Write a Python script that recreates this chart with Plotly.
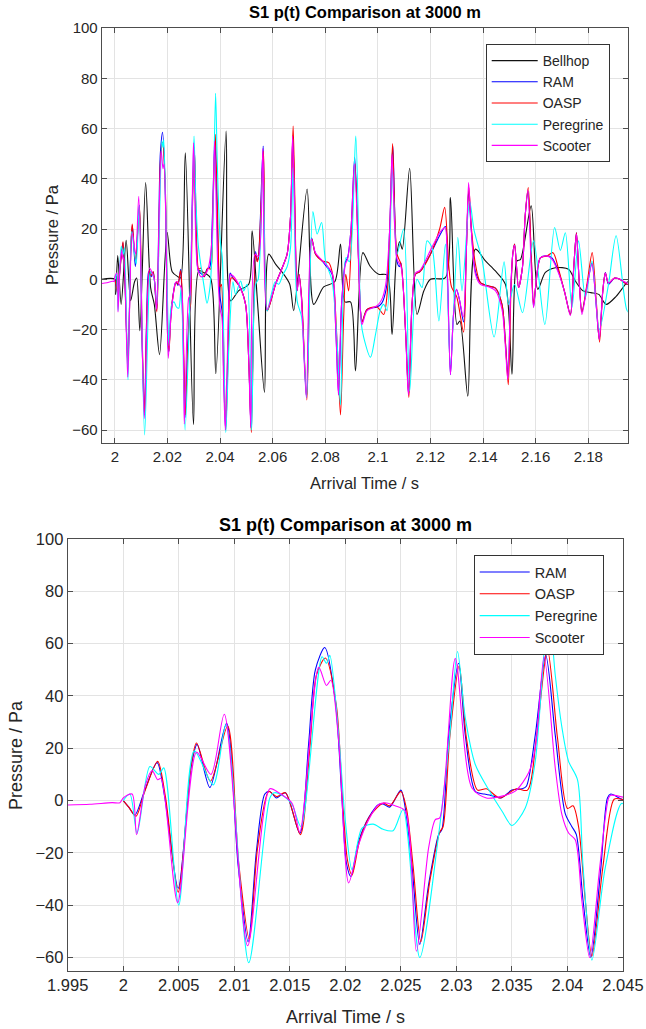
import plotly.graph_objects as go

# ---------------- data (time offsets in ms relative to 2.000 s, pressure in Pa) ----------------
bellhop_t_ms = [-5, 0, 0.3, 1.1, 2.4, 4.3, 6.0, 7.5, 8.3, 9.5, 11.7, 13.6, 15.0, 17.0, 19.9, 21.8, 24.0,
                25.0, 26.8, 29.9, 31.9, 33.8, 36.4, 38.4, 42.3, 44.0, 47.0, 50.9, 52.2, 54.3, 56.9, 58.5,
                61.1, 64.2, 66.5, 68.0, 73.1, 75.6, 79.4, 83.6, 85.8, 87.5, 89.6, 91.5, 94.3, 97.0, 100.3,
                103.5, 105.4, 107.0, 108.3, 109.3, 112.1, 114.9, 117.5, 120.0, 125.7, 127.6, 130.1, 131.2,
                134.2, 137.1, 140.9, 144.7, 148.5, 151.0, 152.9, 154.2, 158.3, 160.8, 163.7, 167.5, 172.5,
                175.1, 178.0, 181.0, 184.0, 186.8, 190.6, 194.5, 196.0]
bellhop_p = [0, 0, -6, 9.4, -10, 15.5, -8.5, -1, 0.5, -20.5, 38.5, -3.3, -10, -30, 18.6, 3, 1,
             0.5, 50.3, -57.8, 3.3, 2.7, 0.5, -37.6, 59, -8.6, -4.6, -2, 19.3, -10, -45, 10,
             6, 2, -2, -12.5, 35.9, -10, -3, -1, 14, -9, -9, -36.5, 10.6, 5.3, 2,
             1.7, -22, 8, 15, 12, 44.2, -14, -4.6, 0, 0.7, 32.5, -18, -16.6,
             -46.5, 12, 7.3, 3.3, -2, -37.8, 7.3, 7.8, 29.2, -4, 2.7, 4.6, 4,
             -0.7, -4.6, -5.3, -6, -10, -6.8, -1.5, 0]

ram_t_ms = [0, 0.5, 1.05, 1.9, 3.05, 3.75, 4.95, 6.1, 6.65, 7.8, 9.3, 10.35, 11.25, 12.0, 12.75, 13.2,
            13.8, 14.6, 15.9, 16.7, 17.3, 18.15, 19.1, 19.7, 20.1, 20.5, 21.2, 22.1, 23.0, 23.4, 24.0,
            25.0, 25.4, 26.0, 26.7, 27.5, 28.4, 28.7, 29.3, 30.2, 30.8, 31.7, 32.5, 33.1, 34.0, 35.0,
            35.9, 36.3, 37.1, 38.05, 38.9, 39.8, 40.4, 40.8, 41.4, 42.1, 43.0, 43.6, 43.9, 44.9,
            47.5, 49.7, 50.9, 51.8, 53.5, 54.1, 54.6, 56.4, 57.9, 61.1, 63.6, 65.5, 66.8, 67.7, 69.3,
            70.0, 70.96, 72.9, 74.8, 76.3, 78.8, 80.5, 82.6, 84.0, 85.1, 86.2, 87.7, 88.5, 89.8, 91.2,
            93.4, 94.0, 95.9, 99.7, 101.5, 103.3, 104.5, 105.7, 107.3, 108.2, 108.8, 110.5, 111.7,
            113.0, 114.3, 116.0, 120.0, 123.8, 125.7, 126.5, 127.6, 128.7, 129.9, 131.0, 132.6, 133.6,
            134.5, 135.5, 137.1, 139.0, 142.1, 144.7, 147.2, 148.5, 149.5, 150.5, 151.3, 152.0, 153.5,
            155.0, 156.0, 157.1, 158.3, 159.2, 160.0, 161.8, 164.3, 166.2, 168.7, 171.0, 173.2, 174.5,
            175.5, 176.5, 177.6, 179.5, 181.4, 183.0, 184.2, 185.5, 186.5, 187.7, 190.0, 192.0, 194.7,
            196.0]
ram_p = [0, -2.5, -5.5, 3.5, 14.5, 1, -33.5, 12.5, 21.5, 5, 29.5, -25, -54, -19, 2.5, 3.5,
         1, 3, -12.5, 22, 50, 58.5, 38, 0, -24, -29, -15.5, -6.5, -1.5, -1.3, -2.5,
         4, -3, -25, -55, -32, -13, -11, 25, 52.5, 25, 3.5, 2.5, 2, 1, 4,
         4.5, 5.5, 25, 55.5, 25, -5, -10, -13, -38, -60, -26, 1, 2.5, 0.5,
         -3, -10, -32, -59, 11, 7.5, 9, 53, -12.5, -2, 4.5, 10, 25, 57, -4.5,
         2, -7, -47, 16.5, 10, 7.3, 5, 2, -20, -46, -10, 7, 8.5, 20, 48.5,
         -12.5, -17, -12, -11, -9.5, -3, 20, 53, 7, 5, 6.5, -20, -46,
         -10, 2, 3, 10, 18, 21, 0, -38, -15, -4, -8, -17, 10,
         35, 20, 3, -1.3, -2.7, -3.5, -10, -25, -39, -5, 10, 14, -3.3,
         5, 25, 35, 10, -11, -3, 8.5, 9.3, 8.5, 3, -5, -14, 5,
         18.5, 0, -13, -3, 6.5, -10, -24, -5, 2.7, -2, 0.5, 0, -2,
         -2]

oasp_t_ms = [0, 0.5, 1.15, 1.9, 3.1, 3.8, 4.95, 6.1, 6.6, 7.85, 9.4, 10.4, 11.35, 12.1, 13.1, 13.8,
             14.6, 15.95, 16.8, 17.4, 18.2, 19.2, 19.75, 20.2, 20.6, 21.3, 22.2, 23.4, 24.0, 25.0,
             25.5, 26.1, 26.8, 27.6, 28.5, 28.8, 29.4, 30.25, 30.9, 31.9, 32.7, 33.9, 35.4, 36.4,
             37.2, 38.2, 39.1, 40.0, 40.5, 41.0, 41.6, 42.2, 43.2, 44.2, 44.9,
             47.5, 49.7, 50.9, 51.9, 53.5, 54.1, 54.6, 56.5, 58.0, 61.1, 63.6, 65.5, 66.8, 67.8, 69.3,
             70.0, 71.0, 73.0, 74.9, 76.3, 78.8, 81.3, 82.8, 84.5, 85.8, 87.0, 87.8, 88.9, 90.0, 91.3,
             93.4, 94.0, 95.9, 99.7, 102.2, 103.6, 104.6, 105.6, 107.3, 108.8, 110.5, 111.8,
             113.0, 114.3, 116.0, 120.0, 123.5, 125.4, 127.0, 128.0, 130.0, 132.6, 133.6,
             134.6, 135.6, 137.1, 139.0, 142.1, 144.7, 147.2, 148.5, 149.6, 150.6, 151.3, 152.0, 153.5,
             155.0, 156.0, 157.2, 158.3, 159.2, 160.0, 161.8, 164.3, 166.6, 168.7, 171.0, 173.2, 174.5,
             175.5, 176.5, 177.6, 179.5, 181.5, 183.0, 184.3, 185.5, 186.5, 187.7, 190.0, 192.0, 194.7,
             196.0]
oasp_p = [0, -2.5, -6, 3, 15, 1.5, -35, 13, 22, 7.4, 28.5, -24, -53, -18, 3.5, 1.5,
          3, -13, 20, 48, 54.5, 36, 0, -23, -28.5, -15, -6, -1, -2, 3.5,
          -3, -25, -54, -31, -12, -10, 24, 51.5, 24, 4, 4.5, 1, 4.5, 4,
          24, 57.7, 24, -3, -2, -10, -38, -59.5, -25, 0.5, 0.5,
          -3, -10, -32, -61, 10, 7, 8.5, 51, -12.5, -2, 4.5, 10, 25, 61, -4.5,
          2, -7, -48, 16, 10, 7.3, 6.6, 2, -25, -54, -15, 2, -4.6, 18, 46,
          -12.5, -17, -12, -11, -14, -5, 20, 54, 10, 6, -20, -47,
          -10, 2, 3, 10, 20, 28.6, 5, -3, -7, -21, 10,
          36.5, 20, 6, -1.3, -2.7, -3.5, -10, -25, -42, -5, 10, 14, -3.3,
          5, 25, 36.5, 10, -10, -3, 8.5, 9.3, 10.6, 4, -5, -14, 5,
          18.5, 0, -13, -2, 10.6, -8, -25, -5, 2.5, -1.5, 0.5, 0, -2,
          -2]

peregrine_t_ms = [0, 0.6, 1.25, 2.4, 3.2, 3.65, 5.0, 6.4, 8.1, 9.25, 11.3, 13.2, 13.6, 14.5, 15.2, 16.0,
                  17.9, 18.3, 18.6, 19.4, 19.97, 20.6, 21.5, 22.5, 23.4, 24.3, 25.2, 26.7, 28.4, 29.4,
                  30.1, 30.8, 31.7, 32.9, 34.1, 35.0, 36.2, 37.1, 38.3, 38.9, 39.5, 40.1, 40.9, 41.4,
                  42.2, 43.4, 44.9, 45.9, 47.8, 49.0, 50.3, 52.0, 53.5, 54.5, 56.3, 57.9, 59.5, 61.0,
                  62.3, 64.0, 65.5, 66.8, 67.8, 69.3, 71.0, 72.9, 75.3, 76.9, 78.6, 80.1, 82.6, 84.5,
                  85.8, 87.9, 89.2, 91.6, 93.6, 94.6, 97.2, 99.1, 101.0, 102.2, 103.5, 105.4, 107.3,
                  109.8, 112.1, 114.9, 116.8, 118.7, 120.6, 123.2, 125.7, 127.6, 130.4, 132.0, 134.9,
                  136.5, 137.7, 139.6, 144.2, 148.0, 149.7, 152.0, 155.0, 159.2, 163.5, 167.2, 169.4,
                  171.3, 173.8, 176.3, 178.9, 181.4, 184.2, 187.7, 190.6, 194.6, 196.0]
peregrine_p = [0, 2.5, -12.5, 13, 10, 12.5, -40, 19, 6, 29, -62, 1, 3, 1.5, -1.5, -10,
               55, 52.5, 55.5, 25, -6.6, -26.4, -10.5, -9, -11, -11.5, -3.4, -60, -13, 25,
               57, 31.6, 13.8, 4.2, -4, -9.5, -2.8, 15, 74, 48, 28, 15, 8, -25,
               -61, -25.7, -1, -6, -0.7, -4.6, -2, -60, -2, 0, 45.8, -12.6, -6, -1,
               -2, 2, 5, 12.6, 44.5, -8.6, -15, -47, 27, 18, 22.6, 7.3, -0.7, -25,
               -50, 8.6, 7, 57, -16.6, -23, -31, -22, -12, -10, -12.5, 44.5, 10,
               20, -44.5, 0, -3.3, 15.3, 12.6, -16.6, 14, -34, 16.6, -4.6, 31,
               20, 15, 8, -23, 7, -10, -2, -13.3, 15.3, -18, 20.6, 11.5,
               18.5, -11.3, 15.3, -7.3, 7.3, -20, -2, 17.3, -12, -14]

scooter_t_ms = [-5.0, -3.0, -1.0, -0.3, 0.0, 0.8, 1.2, 2.0, 2.6, 3.1, 3.4, 4.9, 6.6, 7.9, 9.1, 11.2,
                13.2, 14.0, 15.2, 15.9, 17.6, 18.3, 18.7, 19.4, 20.3, 21.2, 22.1, 23.0, 23.7, 24.6,
                25.4, 26.4, 27.5, 28.1, 28.5, 29.9, 31.4, 32.7, 34.1, 35.3, 36.5, 37.1, 37.9, 38.9,
                39.5, 40.1, 40.7, 41.3, 42.0, 42.9, 43.7, 43.9, 45.0,
                47.5, 49.7, 50.9, 51.7, 53.3, 54.6, 56.3, 57.8, 61.1, 63.6, 65.5, 66.8, 67.6, 69.3,
                70.0, 70.9, 72.8, 74.7, 76.3, 78.8, 82.6, 84.0, 85.0, 86.2, 87.7, 88.5, 89.8, 91.1,
                93.4, 94.0, 95.9, 99.7, 101.5, 103.0, 104.5, 105.4, 107.3, 108.8, 110.5, 111.6,
                113.0, 114.3, 116.0, 120.0, 123.8, 125.5, 126.5, 127.6, 128.7, 129.9, 131.0, 132.5,
                133.6, 134.5, 135.5, 137.1, 139.0, 142.1, 144.7, 147.2, 148.5, 149.4, 150.5, 151.3,
                152.0, 153.5, 155.0, 156.0, 157.0, 158.3, 159.2, 160.0, 161.8, 164.3, 166.2, 168.7,
                171.0, 173.2, 174.5, 175.5, 176.5, 177.6, 179.5, 181.4, 183.0, 184.2, 185.5, 186.5,
                187.7, 190.0, 192.0, 194.7, 196.0]
scooter_p = [-1.7, -1.4, -0.8, -0.8, 1, 2.5, -13, 6, 11.5, 8, 8.5, -39, 18.5, 10, 33, -55.5,
             4.5, 3, -1, -12, 51, 44, 46, 22.7, -31.5, -16.8, -7.3, -1.5, -0.9, -2.2,
             -4, -57.6, -18, -7.3, -6.6, 54.3, 4.8, 1, 1.7, 3.6, 10.6, 20, 55, 12.5,
             -5.4, -12.4, -15, -38.5, -60, -25.7, 1, 2, 1.3,
             -3, -10, -32, -59, 10, 9, 52, -12, -2, 4.5, 10, 25, 57, -4.5,
             1.5, -7, -47, 16, 10.5, 7.5, 2.5, -20, -46, -10, 6, 8, 20, 46,
             -13, -18, -12.5, -10.5, -8, -2, 20, 49.6, 8, 5, -20, -46,
             -10, 2.5, 3.5, 11.5, 19, 20.5, 0, -38, -15, -4, -8, -15,
             10, 38.5, 20, 2, -2, -3, -4.5, -12, -27, -40, -5, 10,
             13.5, -3.3, 5, 25, 35.5, 5, -11.3, -3, 8.5, 9.3, 8, 2.5,
             -5, -14.5, 5, 18, 0, -14, -3, 6, -10, -24, -5, 2.5,
             -1.5, 0.5, 0, -1.5, -1.5]

T0 = 2.0  # s
title_text = "S1 p(t) Comparison at 3000 m"
x_label = "Arrival Time / s"
y_label = "Pressure / Pa"

top_xticks = [2.0, 2.02, 2.04, 2.06, 2.08, 2.10, 2.12, 2.14, 2.16, 2.18]
top_xtick_text = ["2", "2.02", "2.04", "2.06", "2.08", "2.1", "2.12", "2.14", "2.16", "2.18"]
bot_xticks = [1.995, 2.0, 2.005, 2.01, 2.015, 2.02, 2.025, 2.03, 2.035, 2.04, 2.045]
bot_xtick_text = ["1.995", "2", "2.005", "2.01", "2.015", "2.02", "2.025", "2.03", "2.035", "2.04", "2.045"]
yticks = [-60, -40, -20, 0, 20, 40, 60, 80, 100]


def sec(ms_list):
    return [T0 + v / 1000.0 for v in ms_list]


series = [
    ("Bellhop", bellhop_t_ms, bellhop_p, "#111111"),
    ("RAM", ram_t_ms, ram_p, "#0000ff"),
    ("OASP", oasp_t_ms, oasp_p, "#ff0000"),
    ("Peregrine", peregrine_t_ms, peregrine_p, "#00ffff"),
    ("Scooter", scooter_t_ms, scooter_p, "#ff00ff"),
]

fig = go.Figure()
for name, t, p, c in series:
    fig.add_trace(go.Scatter(x=sec(t), y=p, mode="lines", name=name,
                             line=dict(color=c, width=1.1, shape="spline", smoothing=0.8),
                             xaxis="x", yaxis="y", legend="legend"))
for name, t, p, c in series[1:]:
    fig.add_trace(go.Scatter(x=sec(t), y=p, mode="lines", name=name,
                             line=dict(color=c, width=1.1, shape="spline", smoothing=0.8),
                             xaxis="x2", yaxis="y2", legend="legend2"))

W, H = 646, 1029
font_fam = "Arial, Liberation Sans, Helvetica, sans-serif"
axcol = "#262626"
gridcol = "#e3e3e3"

common_axis = dict(showline=True, linecolor="#4d4d4d", linewidth=1, mirror="ticks",
                   ticks="inside", ticklen=5, tickcolor="#4d4d4d", showgrid=True,
                   gridcolor=gridcol, gridwidth=1, zeroline=False, automargin=False,
                   tickfont=dict(family=font_fam, color=axcol))

fig.update_layout(
    width=W, height=H,
    margin=dict(l=0, r=0, t=0, b=0, autoexpand=False),
    paper_bgcolor="white", plot_bgcolor="white",
    xaxis=dict(domain=[101.7 / W, 627.7 / W], range=[1.995, 2.195], anchor="y",
               tickvals=top_xticks, ticktext=top_xtick_text, **common_axis),
    yaxis=dict(domain=[1 - 442.6 / H, 1 - 28 / H], range=[-65, 100], anchor="x",
               tickvals=yticks, **common_axis),
    xaxis2=dict(domain=[67.7 / W, 623 / W], range=[1.995, 2.045], anchor="y2",
                tickvals=bot_xticks, ticktext=bot_xtick_text, **common_axis),
    yaxis2=dict(domain=[1 - 970.6 / H, 1 - 539 / H], range=[-65, 100], anchor="x2",
                tickvals=yticks, **common_axis),
    legend=dict(x=485.7 / W, y=1 - 44 / H, xanchor="left", yanchor="top",
                bgcolor="white", bordercolor="#333333", borderwidth=1, itemwidth=46,
                font=dict(family=font_fam, size=14, color=axcol), tracegroupgap=0),
    legend2=dict(x=473.7 / W, y=1 - 555 / H, xanchor="left", yanchor="top",
                 bgcolor="white", bordercolor="#333333", borderwidth=1, itemwidth=50,
                 font=dict(family=font_fam, size=14.5, color=axcol), tracegroupgap=0),
)
fig.update_xaxes(tickfont_size=15, selector=dict(anchor="y"))
fig.update_yaxes(tickfont_size=15, selector=dict(anchor="x"))
fig.update_xaxes(tickfont_size=16.5, selector=dict(anchor="y2"))
fig.update_yaxes(tickfont_size=16.5, selector=dict(anchor="x2"))

ann = [
    dict(text="<b>" + title_text + "</b>", x=364.7 / W, y=1 - 12 / H, size=16.5, angle=0, color="#000000"),
    dict(text=x_label, x=364.7 / W, y=1 - 483 / H, size=16.5, angle=0, color=axcol),
    dict(text=y_label, x=52 / W, y=1 - 235 / H, size=16.5, angle=-90, color=axcol),
    dict(text="<b>" + title_text + "</b>", x=345.3 / W, y=1 - 525 / H, size=18, angle=0, color="#000000"),
    dict(text=x_label, x=345.3 / W, y=1 - 1017 / H, size=18, angle=0, color=axcol),
    dict(text=y_label, x=16 / W, y=1 - 755 / H, size=18, angle=-90, color=axcol),
]
for a in ann:
    fig.add_annotation(text=a["text"], x=a["x"], y=a["y"], xref="paper", yref="paper",
                       xanchor="center", yanchor="middle", showarrow=False, textangle=a["angle"],
                       font=dict(family=font_fam, size=a["size"], color=a["color"]))

fig.write_html("out.html")
